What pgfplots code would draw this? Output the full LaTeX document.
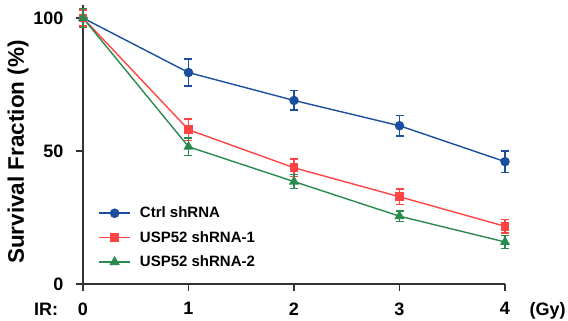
\documentclass[border=0pt]{standalone}
\usepackage{pgfplots}
\pgfplotsset{compat=1.18}
\usepackage{fontspec}
\setmainfont{Liberation Sans}
\definecolor{cblue}{HTML}{1B4E9E}
\definecolor{cred}{HTML}{FF4444}
\definecolor{cgreen}{HTML}{2A8A4E}
\definecolor{axgray}{HTML}{333333}
\begin{document}
\begin{tikzpicture}
\begin{axis}[
  at={(0,0)}, anchor=origin,
  scale only axis, width=422pt, height=279.3pt,
  xmin=0, xmax=4, ymin=0, ymax=105,
  axis lines=left, axis line style={-, line width=1.8pt, color=axgray},
  xtick={0,1,2,3,4}, ytick={0,50,100},
  tick align=outside, major tick length=7pt,
  tick style={line width=1.6pt, color=axgray},
  minor tick num=0,
  /pgf/number format/assume math mode=true,
  ticklabel style={font=\bfseries\fontsize{18}{18}\selectfont},
  yticklabel style={xshift=-9pt},
  xticklabel style={yshift=-8pt},
  clip=false,
  legend style={draw=none, fill=none, at={(axis cs:0.115,30.5)}, anchor=north west,
    font=\bfseries\fontsize{15}{15}\selectfont, row sep=8pt,
    nodes={inner xsep=9pt}},
  legend cell align=left,
  legend image code/.code={\draw[#1, line width=1.6pt, mark repeat=2, mark phase=2] plot coordinates {(0pt,0pt) (15.5pt,0pt) (31pt,0pt)};},
]
\addplot[color=cblue, line width=1.4pt, mark=*, mark size=4pt,
  error bars/.cd, y dir=both, y explicit,
  error bar style={line width=1.6pt},
  error mark options={rotate=90, mark size=4pt, line width=1.6pt}]
  coordinates {
  (0,100) +- (0,3)
  (1,79.5) +- (0,5)
  (2,69.0) +- (0,3.7)
  (3,59.5) +- (0,3.9)
  (4,46.0) +- (0,4.1)
};
\addlegendentry{Ctrl shRNA}
\addplot[color=cred, line width=1.4pt, mark=square*, mark size=3.6pt,
  error bars/.cd, y dir=both, y explicit,
  error bar style={line width=1.6pt},
  error mark options={rotate=90, mark size=4pt, line width=1.6pt}]
  coordinates {
  (0,100) +- (0,3)
  (1,58.0) +- (0,4)
  (2,43.7) +- (0,3.3)
  (3,32.8) +- (0,2.9)
  (4,21.7) +- (0,2.6)
};
\addlegendentry{USP52 shRNA-1}
\addplot[color=cgreen, line width=1.4pt, mark=triangle*, mark size=4.5pt,
  error bars/.cd, y dir=both, y explicit,
  error bar style={line width=1.6pt},
  error mark options={rotate=90, mark size=4pt, line width=1.6pt}]
  coordinates {
  (0,100) +- (0,3.5)
  (1,51.6) +- (0,3.3)
  (2,38.5) +- (0,2.6)
  (3,25.5) +- (0,2.0)
  (4,15.8) +- (0,2.5)
};
\addlegendentry{USP52 shRNA-2}
\end{axis}
\node[font=\bfseries\fontsize{18}{18}\selectfont, anchor=base] at (-37pt,-32pt) {IR:};
\node[font=\bfseries\fontsize{18}{18}\selectfont, anchor=base west] at (443pt,-32pt) {(Gy)};
\node[font=\bfseries\fontsize{22.5}{22.5}\selectfont, rotate=90, anchor=center] at (-65pt,132pt) {Survival Fraction (\%)};
\pgfresetboundingbox
\useasboundingbox (-83pt,-37pt) rectangle (485pt,284pt);
\end{tikzpicture}
\end{document}
